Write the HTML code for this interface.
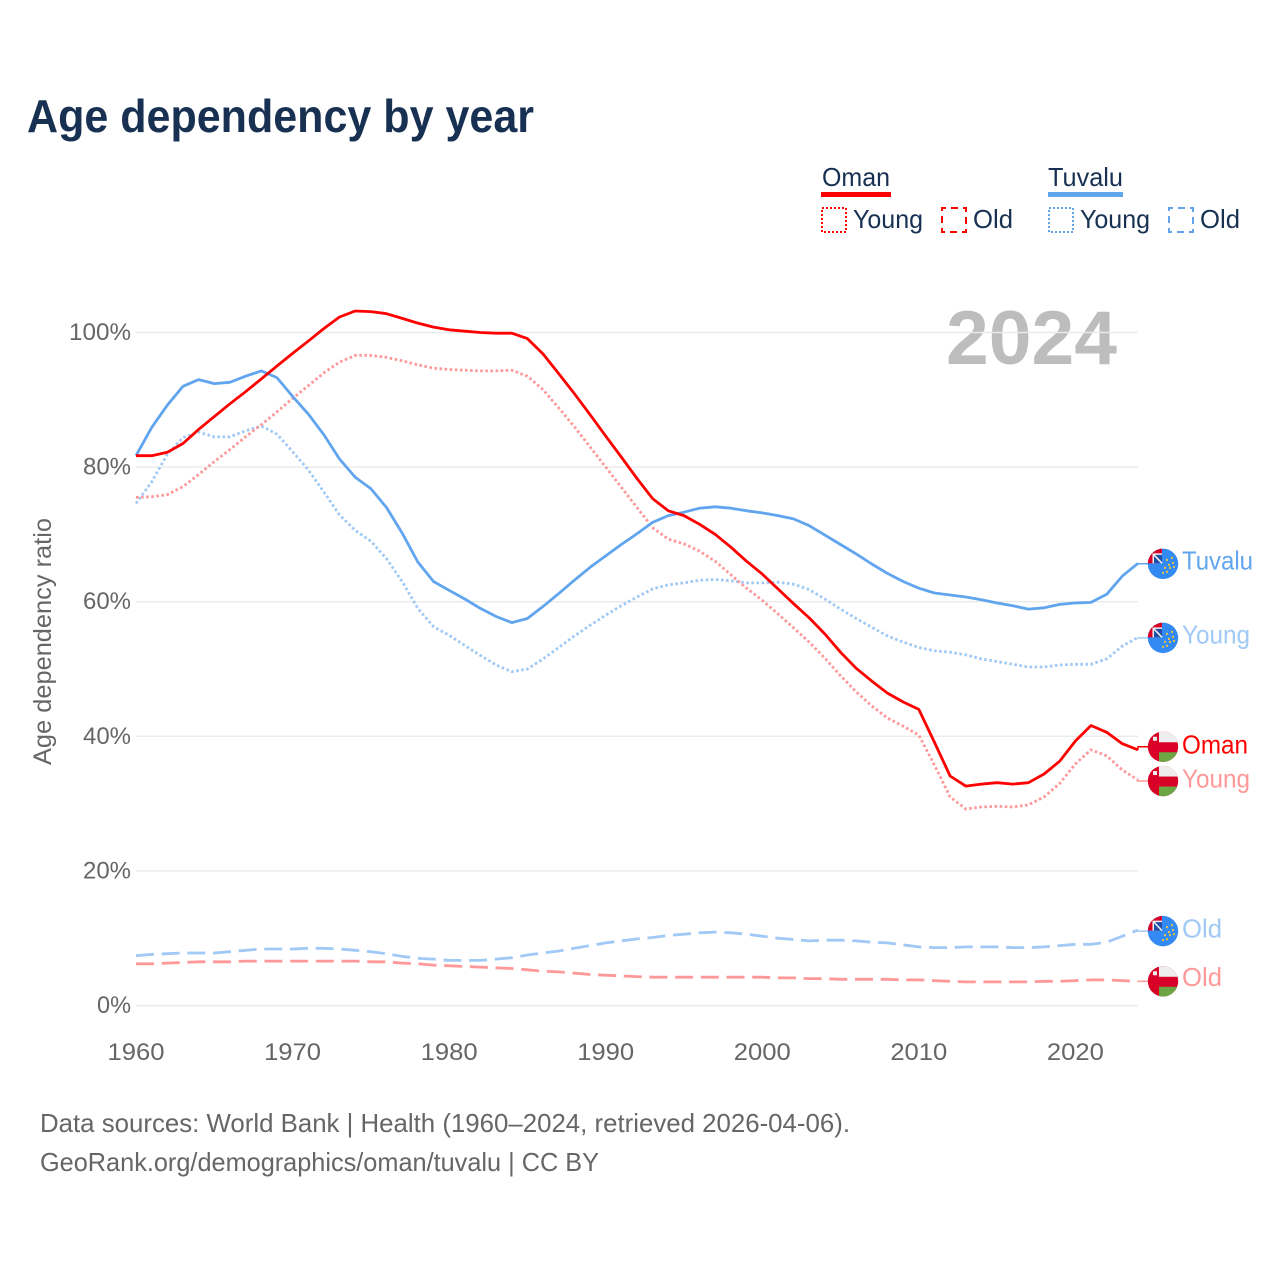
<!DOCTYPE html>
<html lang="en">
<head>
<meta charset="utf-8">
<title>Age dependency by year</title>
<style>
html,body{margin:0;padding:0;background:#fff;}
svg{display:block;font-family:"Liberation Sans",sans-serif;}
</style>
</head>
<body>
<svg id="chart" xmlns="http://www.w3.org/2000/svg" width="1280" height="1280" viewBox="0 0 1280 1280">
  <rect x="0" y="0" width="1280" height="1280" fill="#fff"/>
  <text x="27" y="132" font-size="46" font-weight="700" fill="#183153" textLength="507" lengthAdjust="spacingAndGlyphs">Age dependency by year</text>

  <g font-size="26" fill="#183153">
    <g>
      <text x="822" y="186" textLength="68" lengthAdjust="spacingAndGlyphs">Oman</text>
      <rect x="821" y="192" width="70" height="5" fill="#ff0000"/>
      <rect x="822" y="208" width="24" height="24" fill="none" stroke="#ff0000" stroke-width="2" stroke-dasharray="2 2"/>
      <text x="853" y="228" textLength="70" lengthAdjust="spacingAndGlyphs">Young</text>
      <rect x="942" y="208" width="24" height="24" fill="none" stroke="#ff0000" stroke-width="2" stroke-dasharray="7 5" stroke-dashoffset="3"/>
      <text x="973" y="228" textLength="40" lengthAdjust="spacingAndGlyphs">Old</text>
    </g>
    <g>
      <text x="1048" y="186" textLength="75" lengthAdjust="spacingAndGlyphs">Tuvalu</text>
      <rect x="1048" y="192" width="75" height="5" fill="#60a5ee"/>
      <rect x="1049" y="208" width="24" height="24" fill="none" stroke="#60a5ee" stroke-width="2" stroke-dasharray="2 2"/>
      <text x="1080" y="228" textLength="70" lengthAdjust="spacingAndGlyphs">Young</text>
      <rect x="1169" y="208" width="24" height="24" fill="none" stroke="#60a5ee" stroke-width="2" stroke-dasharray="7 5" stroke-dashoffset="3"/>
      <text x="1200" y="228" textLength="40" lengthAdjust="spacingAndGlyphs">Old</text>
    </g>
  </g>

  <text x="946" y="364" font-size="76" font-weight="700" fill="#bdbdbd" textLength="171" lengthAdjust="spacingAndGlyphs">2024</text>

  <text transform="translate(51,765) rotate(-90)" x="0" y="0" font-size="25" fill="#666" textLength="247" lengthAdjust="spacingAndGlyphs">Age dependency ratio</text>

  <g id="grid"></g>
  <g id="yticks"></g>
  <g id="xticks"></g>
  <g id="series"></g>
  <g id="endlabels"></g>

  <text x="40" y="1132" font-size="26" fill="#666" textLength="810" lengthAdjust="spacingAndGlyphs">Data sources: World Bank | Health (1960–2024, retrieved 2026-04-06).</text>
  <text x="40" y="1171" font-size="26" fill="#666" textLength="559" lengthAdjust="spacingAndGlyphs">GeoRank.org/demographics/oman/tuvalu | CC BY</text>
</svg>

<script>
const years = [1960,1961,1962,1963,1964,1965,1966,1967,1968,1969,
  1970,1971,1972,1973,1974,1975,1976,1977,1978,1979,
  1980,1981,1982,1983,1984,1985,1986,1987,1988,1989,
  1990,1991,1992,1993,1994,1995,1996,1997,1998,1999,
  2000,2001,2002,2003,2004,2005,2006,2007,2008,2009,
  2010,2011,2012,2013,2014,2015,2016,2017,2018,2019,
  2020,2021,2022,2023,2024];
const omanTotal = [81.7,81.7,82.2,83.5,85.6,87.5,89.4,91.2,93.1,95,
  96.9,98.7,100.6,102.3,103.2,103.1,102.8,102.1,101.4,100.8,
  100.4,100.2,100,99.9,99.9,99.1,96.8,93.9,90.9,87.8,
  84.6,81.5,78.3,75.3,73.5,72.8,71.5,70,68.1,66,
  64.1,61.9,59.7,57.6,55.2,52.5,50.1,48.2,46.4,45.1,
  44,39.1,34.1,32.6,32.9,33.1,32.9,33.1,34.4,36.3,
  39.3,41.6,40.6,38.9,38];
const omanYoung = [75.5,75.6,75.9,77.1,78.9,80.8,82.6,84.5,86.3,88.2,
  90.2,92.1,94,95.6,96.6,96.6,96.3,95.8,95.2,94.7,
  94.5,94.4,94.3,94.3,94.4,93.5,91.5,88.8,86,83,
  80,77,74,71,69.3,68.6,67.5,66,64,62,
  60.2,58.2,56.1,54,51.6,49,46.6,44.5,42.7,41.5,
  40.2,35.7,31,29.2,29.5,29.6,29.5,29.8,31,33,
  35.9,38,37.1,35,33.5];
const omanOld = [6.2,6.2,6.3,6.4,6.5,6.5,6.5,6.6,6.6,6.6,
  6.6,6.6,6.6,6.6,6.6,6.5,6.5,6.3,6.2,6,
  5.9,5.8,5.7,5.6,5.5,5.3,5.1,5,4.8,4.6,
  4.5,4.4,4.3,4.2,4.2,4.2,4.2,4.2,4.2,4.2,
  4.2,4.1,4.1,4,4,3.9,3.9,3.9,3.9,3.8,
  3.8,3.7,3.6,3.5,3.5,3.5,3.5,3.5,3.6,3.6,
  3.7,3.8,3.8,3.7,3.6];
const tuvaluTotal = [81.7,85.9,89.2,92,93,92.4,92.6,93.5,94.3,93.3,
  90.5,87.9,84.8,81.2,78.5,76.8,74,70.2,65.9,63,
  61.7,60.4,59,57.8,56.9,57.5,59.3,61.2,63.2,65.1,
  66.8,68.5,70.1,71.8,72.8,73.3,73.9,74.1,73.9,73.5,
  73.2,72.8,72.3,71.3,69.9,68.5,67.1,65.6,64.2,63,
  62,61.3,61,60.7,60.3,59.8,59.4,58.9,59.1,59.6,
  59.8,59.9,61.1,63.8,65.7];
const tuvaluYoung = [74.6,77.8,81.9,84.4,85.2,84.5,84.5,85.4,86.1,84.9,
  82.3,79.6,76.3,72.9,70.6,69,66.4,63,59,56.3,
  55,53.5,52,50.6,49.6,50,51.5,53.2,54.9,56.5,
  58,59.4,60.7,61.9,62.5,62.8,63.2,63.3,63.1,62.8,
  62.8,62.9,62.6,61.8,60.4,58.9,57.5,56.2,54.9,54,
  53.2,52.7,52.5,52.1,51.5,51.1,50.7,50.3,50.3,50.6,
  50.7,50.7,51.5,53.4,54.7];
const tuvaluOld = [7.4,7.6,7.7,7.8,7.8,7.8,8,8.2,8.4,8.4,
  8.4,8.5,8.5,8.4,8.2,8,7.7,7.3,7,6.9,
  6.7,6.7,6.7,6.9,7.1,7.5,7.8,8.1,8.5,8.9,
  9.3,9.6,9.9,10.1,10.4,10.6,10.8,10.9,10.8,10.6,
  10.3,10,9.8,9.6,9.7,9.7,9.6,9.4,9.3,9,
  8.7,8.6,8.6,8.7,8.7,8.7,8.6,8.6,8.7,8.9,
  9.1,9.1,9.4,10.3,11.2];
const yTickValues = [0,20,40,60,80,100];
const yTickLabels = ["0%","20%","40%","60%","80%","100%"];
const xTickValues = [1960,1970,1980,1990,2000,2010,2020];
const xTickLabels = ["1960","1970","1980","1990","2000","2010","2020"];

const NS = "http://www.w3.org/2000/svg";
const RED = "#ff0000", BLUE = "#60a5ee", RED_LIGHT = "#ff9999", BLUE_LIGHT = "#a0c9f6";

function xScale(year){ return 136 + (year - 1960) * (1138 - 136) / 64; }
function yScale(v){ return 1005.5 - v * 6.73; }

function make(tag, name, attrs, parent){
  const el = document.createElementNS(NS, tag);
  
  
  for (const k in attrs) el.setAttribute(k, attrs[k]);
  parent.appendChild(el);
  return el;
}

const gridG = document.getElementById('grid');
const yG = document.getElementById('yticks');
const xG = document.getElementById('xticks');
const seriesG = document.getElementById('series');
const endG = document.getElementById('endlabels');

yTickValues.forEach(function(v, i){
  const y = yScale(v);
  make('line', 'gridline-' + v, {x1:136, x2:1138, y1:y, y2:y, stroke:'#eaeaea', 'stroke-width':1.4}, gridG);
  const label = yTickLabels[i];
  const w = label.length === 4 ? 62 : (label.length === 3 ? 48 : 34);
  const t = make('text', 'y-tick-label-' + v, {x:131 - w, y:y + 7.5, 'font-size':24.5, fill:'#666', textLength:w, lengthAdjust:'spacingAndGlyphs'}, yG);
  t.textContent = label;
});
xTickValues.forEach(function(yr, i){
  const t = make('text', 'x-tick-label-' + yr, {x:xScale(yr) - 28.5, y:1060, 'font-size':24.5, fill:'#666', textLength:57, lengthAdjust:'spacingAndGlyphs'}, xG);
  t.textContent = xTickLabels[i];
});

function drawSeries(name, values, color, width, dash, labelText, labelWidth, flagNudge, labelNudge, flag, labelColor){
  const pts = values.map(function(v, i){ return xScale(years[i]).toFixed(1) + ',' + yScale(v).toFixed(1); }).join(' ');
  const attrs = {points:pts, fill:'none', stroke:color, 'stroke-width':width, 'stroke-linejoin':'round'};
  if (dash) attrs['stroke-dasharray'] = dash;
  make('polyline', name + '-line', attrs, seriesG);

  const endX = xScale(years[years.length - 1]);
  const endY = yScale(values[values.length - 1]);
  const flagY = endY + flagNudge;
  make('polyline', name + '-connector', {points:endX + ',' + endY.toFixed(1) + ' ' + endX + ',' + flagY.toFixed(1) + ' 1150,' + flagY.toFixed(1), fill:'none', stroke:color, 'stroke-width':1.5}, endG);
  flag(name, 1163, flagY);
  const t = make('text', name + '-end-label', {x:1182, y:flagY + 6.5 + labelNudge, 'font-size':26, fill:labelColor, textLength:labelWidth, lengthAdjust:'spacingAndGlyphs'}, endG);
  t.textContent = labelText;
}

let clipCount = 0;
function flagBase(name, cx, cy){
  const id = 'flag-clip-' + (clipCount++);
  const g = make('g', name + '-flag', {}, endG);
  const cp = make('clipPath', name + '-flag-clip', {id:id}, g);
  make('circle', name + '-flag-clip-circle', {cx:cx, cy:cy, r:15.2}, cp);
  return make('g', name + '-flag-art', {'clip-path':'url(#' + id + ')'}, g);
}
function omanFlag(name, cx, cy){
  const g = flagBase(name, cx, cy);
  make('rect', name + '-flag-red', {x:cx - 16, y:cy - 16, width:32, height:32, fill:'#d80027'}, g);
  make('rect', name + '-flag-white', {x:cx - 4, y:cy - 16, width:20, height:11.5, fill:'#eeeeee'}, g);
  make('rect', name + '-flag-green', {x:cx - 4, y:cy + 5.5, width:20, height:11, fill:'#6da544'}, g);
  make('rect', name + '-flag-emblem', {x:cx - 10, y:cy - 10, width:4, height:4, fill:'#eeeeee'}, g);
}
function tuvaluFlag(name, cx, cy){
  const g = flagBase(name, cx, cy);
  make('rect', name + '-flag-blue', {x:cx - 16, y:cy - 16, width:32, height:32, fill:'#338af3'}, g);
  make('rect', name + '-flag-red', {x:cx - 16, y:cy - 16, width:15, height:15.5, fill:'#d80027'}, g);
  make('rect', name + '-flag-white', {x:cx - 10.5, y:cy - 10.5, width:9.5, height:10, fill:'#f0f0f0'}, g);
  make('rect', name + '-flag-union', {x:cx - 9, y:cy - 9, width:8, height:8.5, fill:'#1f4fa8'}, g);
  make('line', name + '-flag-saltire', {x1:cx - 9, y1:cy - 9, x2:cx - 1, y2:cy - 0.5, stroke:'#f0f0f0', 'stroke-width':1.6}, g);
  const stars = make('g', name + '-flag-stars', {fill:'#e6c24a'}, g);
  [[3,-5],[8,-7],[9,-2],[5,0],[1,3],[6,3],[-1,8],[3,7],[10,2]].forEach(function(p, i){
    make('rect', name + '-flag-star-' + i, {x:cx + p[0], y:cy + p[1], width:2, height:2}, stars);
  });
}

drawSeries('tuvalu-old', tuvaluOld, BLUE_LIGHT, 2.8, '18 7.7', 'Old', 40, 1, 0, tuvaluFlag, BLUE_LIGHT);
drawSeries('oman-old', omanOld, RED_LIGHT, 2.8, '18 7.7', 'Old', 40, 0, -2, omanFlag, RED_LIGHT);
drawSeries('tuvalu-young', tuvaluYoung, BLUE_LIGHT, 2.8, '2.6 2.5', 'Young', 68, 0.5, -1, tuvaluFlag, BLUE_LIGHT);
drawSeries('oman-young', omanYoung, RED_LIGHT, 2.8, '2.6 2.5', 'Young', 68, 1, 0, omanFlag, RED_LIGHT);
drawSeries('tuvalu-total', tuvaluTotal, BLUE, 2.8, null, 'Tuvalu', 71, 0.5, -1, tuvaluFlag, BLUE);
drawSeries('oman-total', omanTotal, RED, 2.8, null, 'Oman', 66, -3, 0, omanFlag, RED);
</script>
</body>
</html>
